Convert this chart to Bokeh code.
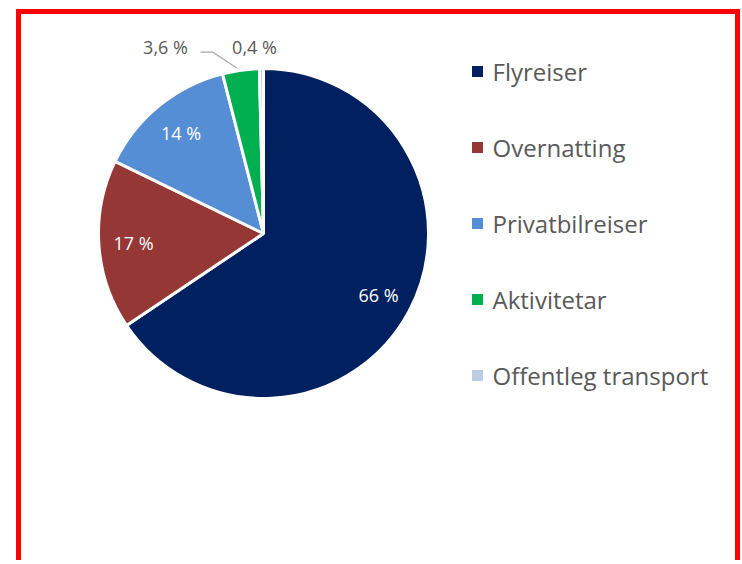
import math
from bokeh.plotting import figure
from bokeh.models import Range1d, ColumnDataSource
from bokeh.core.properties import value
from bokeh.embed import file_html
from bokeh.resources import INLINE

# ---- data ----
categories = ["Flyreiser", "Overnatting", "Privatbilreiser", "Aktivitetar", "Offentleg transport"]
shares = [65.6, 16.6, 13.8, 3.6, 0.4]
label_texts = ["66 %", "17 %", "14 %", "3,6 %", "0,4 %"]
colors = ["#002060", "#953735", "#558ED5", "#00B050", "#B9CDE5"]

# ---- layout constants ----
W, H = 740, 560
CX, CY = 263, 233          # pie centre (px from top-left of figure)
R = 165
FONT = "Open Sans"

p = figure(width=W, height=H, output_backend="svg", toolbar_location=None,
           x_range=Range1d(-CX, W - CX), y_range=Range1d(CY - H, CY),
           min_border_left=0, min_border_right=0, min_border_top=0, min_border_bottom=0)
p.axis.visible = False
p.grid.visible = False
p.outline_line_color = None
p.background_fill_color = "#FFFFFF"

# red highlight frame (open at the bottom, as in the screenshot)
fl, fr, ft, fb = 18 - CX, W - 3 - CX, CY - 11, CY - H - 20
p.line(x=[fl, fl, fr, fr], y=[fb, ft, ft, fb], line_color="#FF0000", line_width=5,
       line_join="miter")

total = sum(shares)
starts, ends, mids = [], [], []
cum = 0.0
for s in shares:
    a0 = math.pi / 2 - 2 * math.pi * cum / total
    cum += s
    a1 = math.pi / 2 - 2 * math.pi * cum / total
    starts.append(a0); ends.append(a1); mids.append((a0 + a1) / 2)

src = ColumnDataSource(dict(start=starts, end=ends, color=colors, cat=categories))
p.wedge(x=0, y=0, radius=R, start_angle="start", end_angle="end", direction="clock",
        fill_color="color", line_color="white", line_width=3, source=src)

# inside labels
inside = [0, 1, 2]
p.text(x=[0.79 * R * math.cos(mids[i]) for i in inside],
       y=[0.79 * R * math.sin(mids[i]) for i in inside],
       text=[label_texts[i] for i in inside], text_color="white",
       text_font=value(FONT), text_font_size="18px",
       text_align="center", text_baseline="middle")

# outside labels
lab_y = R * 1.13
x36 = -98
x04 = -9
p.text(x=[x36, x04], y=[lab_y, lab_y], text=[label_texts[3], label_texts[4]],
       text_color="#595959", text_font=value(FONT), text_font_size="18px",
       text_align="center", text_baseline="middle")
# leader line for 3,6 %
ex, ey = 1.0 * R * math.cos(mids[3]), 1.0 * R * math.sin(mids[3])
p.line(x=[x36 + 35, x36 + 47, ex - 4], y=[lab_y - 5, lab_y - 5, ey + 2],
       line_color="#A6A6A6", line_width=1.2)

# legend
lx, ly0, pitch = 214, 162, 76
ys = [ly0 - i * pitch for i in range(len(categories))]
p.scatter(x=[lx] * len(categories), y=ys, marker="square", size=11,
          fill_color=colors, line_color=None)
p.text(x=[lx + 15] * len(categories), y=ys, text=categories, text_color="#595959",
       text_font=value(FONT), text_font_size="24px", text_align="left",
       text_baseline="middle")

open("out.html", "w").write(file_html(p, INLINE))
